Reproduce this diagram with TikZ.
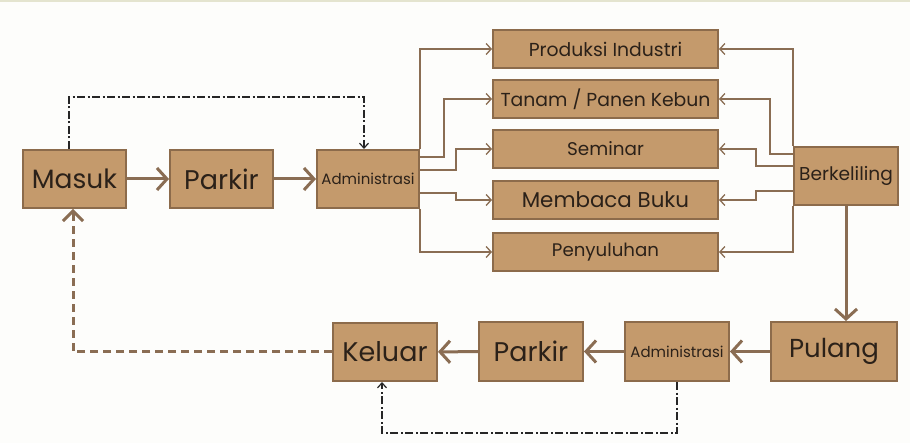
\documentclass[tikz,border=0pt]{standalone}
\usepackage{fontspec}
\setmainfont{Poppins}
\usepackage{tikz}
\usetikzlibrary{arrows.meta}
\definecolor{boxfill}{HTML}{C49A6C}
\definecolor{boxline}{HTML}{8C6B4B}
\definecolor{flowline}{HTML}{8A6D53}
\definecolor{boxtext}{HTML}{2B2119}
\definecolor{topline}{HTML}{E4E4CF}
\definecolor{paper}{HTML}{FDFDFB}
\newcommand{\fsz}[1]{\fontsize{#1}{#1}\selectfont}
\tikzset{
  box/.style={draw=boxline, fill=boxfill, line width=2pt, inner sep=0pt, text=boxtext, align=center},
  bigbox/.style={box, minimum width=103pt, minimum height=58pt},
  actbox/.style={box, minimum width=225pt, minimum height=38pt},
  mainflow/.style={draw=flowline, line width=3pt, -{Straight Barb[length=10pt,width=22pt,line width=3pt]}},
  backflow/.style={draw=flowline, line width=3pt, dash pattern=on 8pt off 5pt, -{Straight Barb[length=10pt,width=20pt,line width=3pt]}},
  branch/.style={draw=flowline, line width=1.3pt, -{Straight Barb[length=5pt,width=11pt,line width=1.3pt]}},
  shortcut/.style={draw=black!85, line width=1.3pt, dash pattern=on 8pt off 2.5pt on 2pt off 2.5pt, -{Straight Barb[length=5pt,width=9pt,line width=1.2pt]}}
}

\begin{document}
\begin{tikzpicture}[x=1pt, y=-1pt]
  \fill[paper] (0,0) rectangle (910,443);
  \fill[topline] (0,0) rectangle (910,2);

  \node[bigbox, font=\fsz{26.5}] (masuk) at (74.5,179) {Masuk};
  \node[bigbox, font=\fsz{27}] (parkirA) at (221.5,179) {Parkir};
  \node[bigbox, minimum width=102pt, font=\fsz{15}] (adminA) at (368,179) {Administrasi};

  \node[actbox, font=\fsz{18.8}] (produksi) at (605.5,49) {Produksi Industri};
  \node[actbox, font=\fsz{18.8}] (tanam) at (605.5,99) {Tanam / Panen Kebun};
  \node[actbox, font=\fsz{18.4}] (seminar) at (605.5,149) {Seminar};
  \node[actbox, font=\fsz{21.4}] (membaca) at (605.5,200) {Membaca Buku};
  \node[actbox, font=\fsz{18.2}] (penyuluhan) at (605.5,252) {Penyuluhan};

  \node[bigbox, minimum width=104pt, font=\fsz{18.6}] (berkeliling) at (846,176) {Berkeliling};
  \node[bigbox, minimum width=126pt, minimum height=59pt, font=\fsz{26}] (pulang) at (834,351.5) {Pulang};
  \node[bigbox, minimum width=104pt, minimum height=59pt, font=\fsz{15}] (adminB) at (677,351.5) {Administrasi};
  \node[bigbox, minimum width=104pt, minimum height=59pt, font=\fsz{27}] (parkirB) at (531,351.5) {Parkir};
  \node[bigbox, minimum width=104pt, font=\fsz{27}] (keluar) at (385,352) {Keluar};

  \draw[mainflow] (masuk) -- (parkirA);
  \draw[mainflow] (parkirA) -- (adminA);
  \draw[shortcut] ([xshift=-5.5pt]masuk.north) -- ++(0,-52) -| ([xshift=-4pt]adminA.north);

  \draw[branch] (adminA.north east) |- (produksi.west);
  \draw[branch] ([yshift=22pt]adminA.east) -- ++(24,0) |- (tanam.west);
  \draw[branch] ([yshift=9pt]adminA.east) -- ++(36,0) |- (seminar.west);
  \draw[branch] ([yshift=-14pt]adminA.east) -- ++(36,0) |- (membaca.west);
  \draw[branch] (adminA.south east) |- (penyuluhan.west);

  \draw[branch] (berkeliling.north west) |- (produksi.east);
  \draw[branch] ([yshift=22pt]berkeliling.west) -- ++(-23,0) |- (tanam.east);
  \draw[branch] ([yshift=10pt]berkeliling.west) -- ++(-37,0) |- (seminar.east);
  \draw[branch] ([yshift=-15pt]berkeliling.west) -- ++(-37,0) |- (membaca.east);
  \draw[branch] (berkeliling.south west) |- (penyuluhan.east);

  \draw[mainflow] (berkeliling.south) -- (berkeliling.south |- pulang.north);
  \draw[mainflow] (pulang) -- (adminB);
  \draw[mainflow] (adminB) -- (parkirB);
  \draw[mainflow] (parkirB) -- (keluar);
  \draw[backflow] (keluar.west) -| ([xshift=-1.5pt]masuk.south);
  \draw[shortcut] (adminB.south) -- ++(0,51) -| ([xshift=-3pt]keluar.south);
\end{tikzpicture}
\end{document}
